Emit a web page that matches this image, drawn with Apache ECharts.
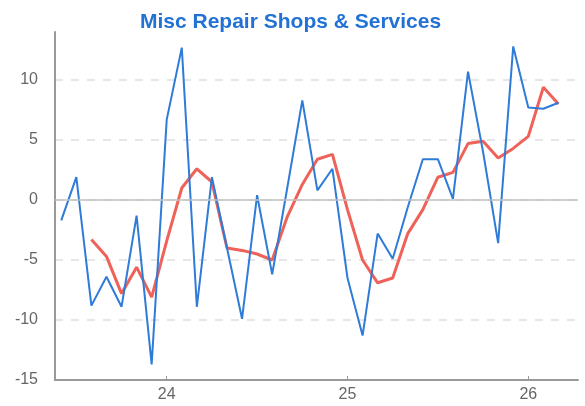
<!DOCTYPE html>
<html>
<head>
<meta charset="utf-8">
<script src="https://cdn.jsdelivr.net/npm/echarts@6/dist/echarts.min.js"></script>
<style>html,body{margin:0;padding:0;background:#fff;}#c{width:585px;height:406px;}</style>
</head>
<body>
<div id="c"></div>
<script>
// Monthly periods (Jun 2023 .. Mar 2026)
var months = ['2023-06','2023-07','2023-08','2023-09','2023-10','2023-11','2023-12',
  '2024-01','2024-02','2024-03','2024-04','2024-05','2024-06','2024-07','2024-08','2024-09','2024-10','2024-11','2024-12',
  '2025-01','2025-02','2025-03','2025-04','2025-05','2025-06','2025-07','2025-08','2025-09','2025-10','2025-11','2025-12',
  '2026-01','2026-02','2026-03'];
var monthly = [-1.7, 1.9, -8.8, -6.4, -8.9, -1.3, -13.7, 6.7, 12.7, -8.9, 1.9, -4.0, -9.9, 0.4, -6.2, 1.0, 8.3, 0.8, 2.6,
  -6.5, -11.3, -2.8, -4.9, -0.6, 3.4, 3.4, 0.1, 10.7, 4.0, -3.6, 12.8, 7.7, 7.6, 8.1];
var average = [null, null, -3.3, -4.7, -7.8, -5.6, -8.1, -3.4, 1.0, 2.6, 1.5, -4.0, -4.2, -4.5, -5.0, -1.4, 1.3, 3.4, 3.8,
  -0.8, -5.0, -6.9, -6.5, -2.8, -0.8, 1.9, 2.3, 4.7, 4.9, 3.5, 4.3, 5.3, 9.4, 8.0];
var yearTicks = [24, 25, 26];
var titleText = 'Misc Repair Shops & Services';

function toX(m) {
  var p = m.split('-');
  return (parseInt(p[0], 10) - 2000) + (parseInt(p[1], 10) - 1) / 12;
}
function pairs(vals) {
  return months.map(function (m, i) { return [toX(m), vals[i]]; });
}

var chart = echarts.init(document.getElementById('c'), null, {renderer: 'canvas'});
chart.setOption({
  animation: false,
  backgroundColor: '#ffffff',
  title: {
    text: titleText,
    left: 135, top: 7,
    textStyle: {color: '#2272d6', fontSize: 21, fontWeight: 'bold', fontFamily: 'Liberation Sans, Arial, sans-serif'}
  },
  grid: {left: 55, right: 7, top: 32, bottom: 26, containLabel: false},
  xAxis: {
    type: 'value', min: 23.382, max: 26.275,
    axisLine: {onZero: false, lineStyle: {color: '#999', width: 2}},
    axisTick: {show: true, inside: true, length: 4, customValues: yearTicks, lineStyle: {color: '#999'}},
    axisLabel: {customValues: yearTicks, color: '#666', fontSize: 16, margin: 7,
      fontFamily: 'Liberation Sans, Arial, sans-serif'},
    splitLine: {show: false}
  },
  yAxis: {
    type: 'value', min: -15, max: 14, interval: 5,
    axisLine: {show: true, lineStyle: {color: '#999', width: 2}},
    axisTick: {show: false},
    axisLabel: {color: '#666', fontSize: 16, margin: 17, showMaxLabel: false,
      fontFamily: 'Liberation Sans, Arial, sans-serif'},
    splitLine: {show: true, showMinLine: false, showMaxLine: false,
      lineStyle: {color: '#dedede', type: [8, 8], width: 1.5}}
  },
  series: [
    {
      type: 'line', name: 'monthly', data: pairs(monthly), symbol: 'none',
      lineStyle: {color: '#2f7bd8', width: 2}, z: 3,
      markLine: {silent: true, symbol: 'none', label: {show: false},
        lineStyle: {color: '#c0c0c0', type: 'solid', width: 1.5},
        data: [{yAxis: 0}]}
    },
    {
      type: 'line', name: 'average', data: pairs(average), symbol: 'none',
      connectNulls: false,
      lineStyle: {color: '#ef6259', width: 3}, z: 2
    }
  ]
});
</script>
</body>
</html>
